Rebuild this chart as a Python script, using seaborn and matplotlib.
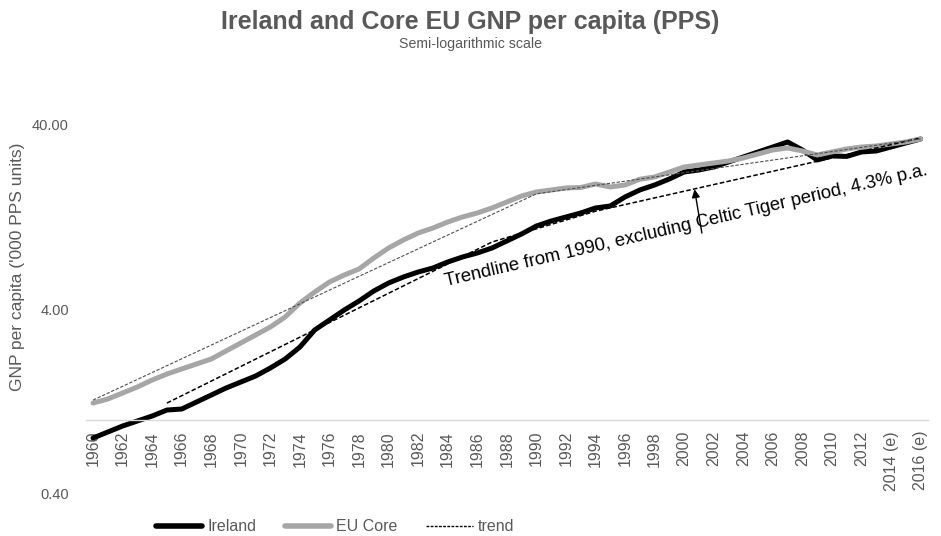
import matplotlib
matplotlib.use("Agg")
import matplotlib.pyplot as plt
import seaborn as sns
import pandas as pd
from matplotlib.ticker import FixedLocator, NullLocator
from matplotlib.lines import Line2D

# ---------------- data ----------------
years = list(range(1960, 2017))
ireland = [0.796, 0.858, 0.925, 0.985, 1.048, 1.130, 1.144, 1.249, 1.363, 1.488,
           1.604, 1.729, 1.912, 2.139, 2.486, 3.076, 3.486, 3.950, 4.421, 5.011,
           5.538, 5.970, 6.355, 6.682, 7.203, 7.668, 8.061, 8.583, 9.370, 10.23,
           11.30, 12.03, 12.65, 13.30, 14.16, 14.52, 16.25, 17.74, 18.88, 20.36,
           22.22, 22.78, 23.65, 25.18, 26.81, 28.54, 30.38, 32.34, 29.26, 25.82,
           27.15, 27.00, 28.54, 28.90, 30.38, 31.94, 33.58]
eu_core = [1.233, 1.297, 1.398, 1.507, 1.645, 1.773, 1.888, 2.010, 2.139, 2.365,
           2.614, 2.889, 3.193, 3.619, 4.312, 4.948, 5.608, 6.121, 6.599, 7.573,
           8.583, 9.486, 10.35, 11.02, 11.88, 12.65, 13.30, 14.16, 15.26, 16.45,
           17.30, 17.74, 18.19, 18.30, 19.12, 18.42, 18.88, 20.30, 20.87, 22.22,
           23.65, 24.25, 24.87, 25.50, 26.47, 27.83, 29.26, 30.00, 28.90, 27.49,
           28.54, 29.63, 30.38, 30.76, 31.55, 32.34, 33.58]
trend_ireland_years = [1965, 1987, 1994, 2016]
trend_ireland = [1.233, 9.25, 13.6, 34.0]
trend_eu_years = [1960, 1990, 2016]
trend_eu = [1.28, 16.9, 33.6]

tick_years = list(range(1960, 2017, 2))
tick_labels = [str(y) for y in range(1960, 2013, 2)] + ["2014 (e)", "2016 (e)"]
y_ticks = [0.4, 4, 40]
y_tick_labels = ["0.40", "4.00", "40.00"]

title = "Ireland and Core EU GNP per capita (PPS)"
subtitle = "Semi-logarithmic scale"
ylabel = "GNP per capita ('000 PPS units)"
note = "Trendline from 1990, excluding Celtic Tiger period, 4.3% p.a."

# ---------------- style ----------------
sns.set_theme(style="white")
plt.rcParams['font.family'] = ['Liberation Sans', 'DejaVu Sans']
TXT = '#595959'
GRAY = '#a6a6a6'

fig = plt.figure(figsize=(9.41, 5.36), dpi=100)
ax = fig.add_axes([0.091, 0.0802, 0.8952, 0.6866])

df_ie = pd.DataFrame({"year": years, "value": ireland})
df_eu = pd.DataFrame({"year": years, "value": eu_core})
df_ti = pd.DataFrame({"year": trend_ireland_years, "value": trend_ireland})
df_te = pd.DataFrame({"year": trend_eu_years, "value": trend_eu})

sns.lineplot(data=df_ie, x="year", y="value", color='black', lw=3.6, ax=ax)
sns.lineplot(data=df_eu, x="year", y="value", color=GRAY, lw=3.6, ax=ax)
sns.lineplot(data=df_ti, x="year", y="value", color='black', lw=1.1,
             linestyle=(0, (3, 1.5)), ax=ax)
sns.lineplot(data=df_te, x="year", y="value", color='#505050', lw=0.8,
             linestyle=(0, (3, 1.5)), ax=ax)

ax.set_yscale('log')
ax.set_ylim(0.4, 40)
ax.set_xlim(1959.5, 2016.5)
ax.yaxis.set_major_locator(FixedLocator(y_ticks))
ax.yaxis.set_minor_locator(NullLocator())
ax.set_yticklabels(y_tick_labels)
ax.xaxis.set_major_locator(FixedLocator(tick_years))
ax.xaxis.set_minor_locator(NullLocator())
ax.set_xticklabels(tick_labels)
ax.tick_params(axis='x', length=0, pad=8, labelsize=11.5, labelcolor=TXT,
               labelrotation=90)
ax.tick_params(axis='y', length=0, pad=12, labelsize=10.5, labelcolor=TXT)
for lab in ax.get_xticklabels():
    lab.set_rotation(90)
    lab.set_ha('center')
    lab.set_va('top')
ax.set_xlabel("")
ax.set_ylabel("")
for s in ['top', 'right', 'left']:
    ax.spines[s].set_visible(False)
ax.spines['bottom'].set_position(('data', 1.0))
ax.spines['bottom'].set_color('#d9d9d9')
ax.spines['bottom'].set_linewidth(1.0)
ax.grid(False)

# annotation
ax.annotate('', xy=(2000.7, 17.9), xytext=(2001.2, 10.35),
            arrowprops=dict(arrowstyle='-|>', color='black', lw=1.0,
                            mutation_scale=12, shrinkA=0, shrinkB=0))
ax.text(2000.14, 11.3, note, rotation=13.0, rotation_mode='anchor',
        ha='center', va='center', fontsize=13.3, color='black')

# titles
fig.text(0.5, 1 - 22 / 536, title, ha='center', va='center', fontsize=18,
         fontweight='bold', color=TXT,
         family=['Liberation Sans Narrow', 'Liberation Sans', 'DejaVu Sans'])
fig.text(0.5, 1 - 44 / 536, subtitle, ha='center', va='center', fontsize=10.2,
         color=TXT,
         family=['Liberation Sans Narrow', 'Liberation Sans', 'DejaVu Sans'])
fig.text(18 / 941, 1 - 267 / 536, ylabel, rotation=90, ha='center',
         va='center', fontsize=12.5, color=TXT)

# legend
handles = [Line2D([], [], color='black', lw=4),
           Line2D([], [], color=GRAY, lw=4),
           Line2D([], [], color='black', lw=1, linestyle=(0, (2, 1)))]
fig.legend(handles=handles, labels=['Ireland', 'EU Core', 'trend'],
           loc='center', bbox_to_anchor=(0.356, 0.017), ncol=3, frameon=False,
           fontsize=11.5, handlelength=2.9, handletextpad=0.3,
           columnspacing=1.8, labelcolor=TXT)

fig.savefig('out.png', dpi=100)
